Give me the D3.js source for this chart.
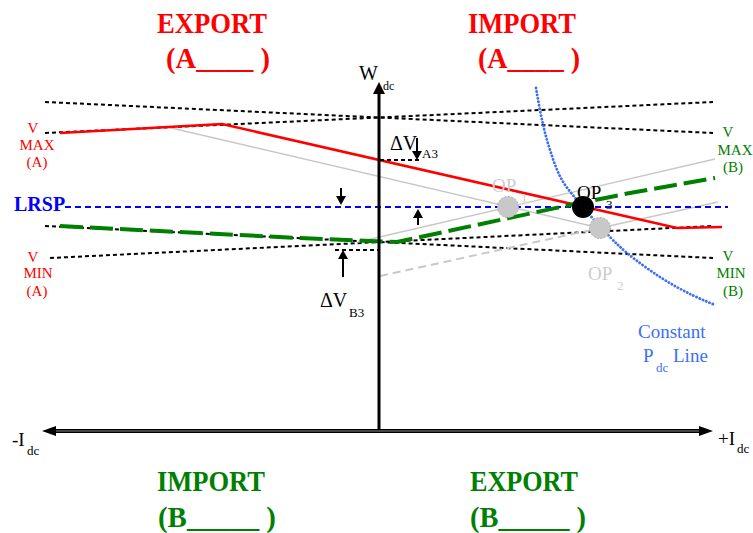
<!DOCTYPE html>
<html>
<head>
<meta charset="utf-8">
<script src="https://cdn.jsdelivr.net/npm/d3@7"></script>
<style>
  html, body { margin: 0; padding: 0; background: #fff; }
  svg { display: block; }
  text { font-family: "Liberation Serif", "DejaVu Serif", serif; }
</style>
</head>
<body>
<svg id="chart" width="753" height="533"></svg>
<script>
// Operating plane: Idc (horizontal, per-unit*335) vs Vdc (vertical)
// Voltage limit lines of converters A and B (they cross in an X)
const vmaxA = [[-333, 297], [335, 328]];
const vmaxB = [[-333, 328], [335, 297]];
const vminA = [[-328, 172], [335, 204]];
const vminB = [[-333, 204], [335, 172]];

// Droop characteristic of converter A (red) and its previous setting (grey)
const droopA = [[-318, 297], [-156, 306], [299, 202], [344, 203]];
const droopAPrev = [[-211, 303], [222, 202]];

// Droop characteristic of converter B (green) and previous settings (grey)
const droopB = [[-318, 204], [-178, 197], [-78, 192], [-8, 189], [19, 188],
                [75, 200], [192, 225], [252, 237], [337, 252]];
const droopBPrev = [[-20, 188], [337, 271]];
const droopBLow = [[2, 154], [222, 202]];
const droopBLowRight = [[222, 202], [340, 228]];

// Reference voltage set point
const lrspV = 223;
const lrspI = [-313, 350];

// Operating points
const opPoints = [
  { name: "OP", sub: "1", i: 130, v: 223, kind: "old" },
  { name: "OP", sub: "2", i: 222, v: 202, kind: "old" },
  { name: "OP", sub: "3", i: 205, v: 223, kind: "new" }
];

// Constant Pdc curve
const constP = [[158, 342], [164, 310], [172, 280], [184, 250], [205, 223],
                [232, 193], [249, 177], [282, 153], [312, 136], [337, 125]];

// Voltage step markers
const dVA3 = { i0: 2, i1: 44, v: 270, arrowI: 39, from: 292 };
const dVB3 = { i0: -43, i1: 2, v: 180, arrowI: -35, from: 153 };
const lrspArrows = [{ i: -37, from: 242, to: 225 }, { i: 40, from: 205, to: 221 }];

const svg = d3.select("#chart");
const x = d3.scaleLinear().domain([-335, 335]).range([43, 713]);
const y = d3.scaleLinear().domain([0, 350]).range([430, 80]);
const line = d3.line().x(d => x(d[0])).y(d => y(d[1]));

const RED = "#ff0000", GREEN = "#008000", BLUE = "#0000ff", LBLUE = "#3d6ff5", GREY = "#c8c8c8";

// limit lines
[vmaxA, vmaxB, vminA, vminB].forEach(l => {
  svg.append("path").attr("d", line(l)).attr("fill", "none")
    .attr("stroke", "#000").attr("stroke-width", 2).attr("stroke-dasharray", "4,3");
});

// grey previous characteristics
[droopAPrev, droopBPrev, droopBLowRight].forEach(l => {
  svg.append("path").attr("d", line(l)).attr("fill", "none")
    .attr("stroke", GREY).attr("stroke-width", 1.4);
});
svg.append("path").attr("d", line(droopBLow)).attr("fill", "none")
  .attr("stroke", GREY).attr("stroke-width", 2).attr("stroke-dasharray", "8,5");

// red droop A
svg.append("path").attr("d", line(droopA)).attr("fill", "none")
  .attr("stroke", RED).attr("stroke-width", 2.6);

// LRSP
svg.append("path").attr("d", line([[lrspI[0], lrspV], [lrspI[1], lrspV]])).attr("fill", "none")
  .attr("stroke", BLUE).attr("stroke-width", 2).attr("stroke-dasharray", "6,4");

// green droop B
svg.append("path").attr("d", line(droopB)).attr("fill", "none")
  .attr("stroke", GREEN).attr("stroke-width", 4).attr("stroke-dasharray", "23,7");

// constant Pdc curve
svg.append("path").attr("d", d3.line().x(d => x(d[0])).y(d => y(d[1])).curve(d3.curveCatmullRom)(constP))
  .attr("fill", "none").attr("stroke", LBLUE).attr("stroke-width", 2.8)
  .attr("stroke-dasharray", "0.1,3.4").attr("stroke-linecap", "round");

// operating points
opPoints.forEach(p => {
  const c = svg.append("circle").attr("cx", x(p.i)).attr("cy", y(p.v));
  if (p.kind === "new") c.attr("r", 11).attr("fill", "#000");
  else c.attr("r", 10.5).attr("fill", GREY).attr("stroke", "#aaa").attr("stroke-width", 1).attr("stroke-dasharray", "2,1.5");
});

// axes
svg.append("line").attr("x1", x(0) + 1).attr("x2", x(0) + 1).attr("y1", y(0)).attr("y2", y(336))
  .attr("stroke", "#000").attr("stroke-width", 3);
svg.append("path").attr("d", `M${x(0)+1},${y(348)} L${x(0)-5},${y(336)} L${x(0)+7},${y(336)} Z`).attr("fill", "#000");

svg.append("line").attr("x1", x(-322)).attr("x2", x(322)).attr("y1", y(-1)).attr("y2", y(-1))
  .attr("stroke", "#000").attr("stroke-width", 4);
svg.append("line").attr("x1", x(-322)).attr("x2", x(322)).attr("y1", y(-1)).attr("y2", y(-1))
  .attr("stroke", "#888").attr("stroke-width", 1);
svg.append("path").attr("d", `M${x(-336)},${y(-1)} L${x(-322)},${y(-1)-5} L${x(-322)},${y(-1)+5} Z`).attr("fill", "#000");
svg.append("path").attr("d", `M${x(335)},${y(-1)} L${x(321)},${y(-1)-5} L${x(321)},${y(-1)+5} Z`).attr("fill", "#000");

// step markers
function arrow(i, from, to) {
  const dir = Math.sign(y(to) - y(from));
  svg.append("line").attr("x1", x(i)).attr("x2", x(i)).attr("y1", y(from)).attr("y2", y(to) - dir * 6)
    .attr("stroke", "#000").attr("stroke-width", 2);
  svg.append("path").attr("d", `M${x(i)},${y(to)} L${x(i)-5},${y(to)-dir*9} L${x(i)+5},${y(to)-dir*9} Z`).attr("fill", "#000");
}
[dVA3, dVB3].forEach(m => {
  svg.append("line").attr("x1", x(m.i0)).attr("x2", x(m.i1)).attr("y1", y(m.v)).attr("y2", y(m.v))
    .attr("stroke", "#000").attr("stroke-width", 2).attr("stroke-dasharray", "4,3");
  arrow(m.arrowI, m.from, m.v);
});
lrspArrows.forEach(a => arrow(a.i, a.from, a.to));

// text helpers
function txt(s, px, py, opt = {}) {
  const t = svg.append("text").attr("x", px).attr("y", py).text(s)
    .attr("font-size", opt.size || 19).attr("fill", opt.color || "#000")
    .attr("text-anchor", opt.anchor || "start");
  if (opt.bold) t.attr("font-weight", "bold");
  if (opt.len) t.attr("textLength", opt.len).attr("lengthAdjust", "spacingAndGlyphs");
  return t;
}

// quadrant headings
txt("EXPORT", 157, 33, { size: 29, bold: true, color: RED, len: 110 });
txt("(A____ )", 166, 68, { size: 29, bold: true, color: RED, len: 104 });
txt("IMPORT", 468, 33, { size: 29, bold: true, color: RED, len: 108 });
txt("(A____ )", 478, 68, { size: 29, bold: true, color: RED, len: 102 });
txt("IMPORT", 157, 491, { size: 29, bold: true, color: GREEN, len: 108 });
txt("(B_____ )", 158, 527, { size: 29, bold: true, color: GREEN, len: 118 });
txt("EXPORT", 470, 491, { size: 29, bold: true, color: GREEN, len: 108 });
txt("(B_____ )", 470, 527, { size: 29, bold: true, color: GREEN, len: 116 });

// axis labels
txt("W", 359, 80, { size: 20 });
txt("dc", 383, 90, { size: 12 });
txt("-I", 12, 446, { size: 19 });
txt("dc", 27, 455, { size: 13 });
txt("+I", 718, 445, { size: 19 });
txt("dc", 737, 453, { size: 13 });

// limit labels
txt("V", 33, 133, { size: 15, color: RED, anchor: "middle" });
txt("MAX", 37, 150, { size: 15, color: RED, anchor: "middle" });
txt("(A)", 37, 167, { size: 15, color: RED, anchor: "middle" });
txt("V", 33, 262, { size: 15, color: RED, anchor: "middle" });
txt("MIN", 38, 278, { size: 15, color: RED, anchor: "middle" });
txt("(A)", 37, 296, { size: 15, color: RED, anchor: "middle" });
txt("V", 728, 137, { size: 15, color: GREEN, anchor: "middle" });
txt("MAX", 735, 155, { size: 15, color: GREEN, anchor: "middle" });
txt("(B)", 733, 172, { size: 15, color: GREEN, anchor: "middle" });
txt("V", 728, 261, { size: 15, color: GREEN, anchor: "middle" });
txt("MIN", 731, 278, { size: 15, color: GREEN, anchor: "middle" });
txt("(B)", 733, 296, { size: 15, color: GREEN, anchor: "middle" });

txt("LRSP", 14, 211, { size: 20, bold: true, color: BLUE });

// step labels
txt("ΔV", 390, 150, { size: 20 });
txt("A3", 422, 158, { size: 13 });
txt("ΔV", 320, 307, { size: 20 });
txt("B3", 349, 317, { size: 13 });

// operating point labels
const opLabelPos = { "1": [492, 192, "#cccccc"], "2": [588, 280, "#cccccc"], "3": [577, 199, "#000"] };
opPoints.forEach(p => {
  const [lx, ly, col] = opLabelPos[p.sub];
  txt(p.name, lx, ly, { size: 19, color: col });
  txt(p.sub, lx + 29, ly + 10, { size: 13, color: col });
});

// constant power label
txt("Constant", 638, 338, { size: 19, color: LBLUE });
txt("P", 643, 362, { size: 19, color: LBLUE });
txt("dc", 656, 372, { size: 13, color: LBLUE });
txt("Line", 673, 362, { size: 19, color: LBLUE });
</script>
</body>
</html>
